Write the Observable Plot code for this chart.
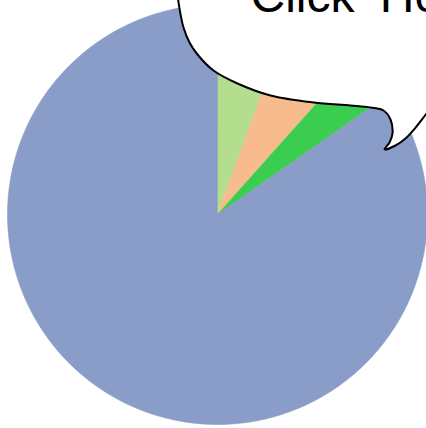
<!DOCTYPE html>
<html>
<head>
<meta charset="utf-8">
<script src="https://cdn.jsdelivr.net/npm/d3@7"></script>
<script src="https://cdn.jsdelivr.net/npm/@observablehq/plot@0.6"></script>
<style>
  html, body { margin: 0; padding: 0; background: #fff; overflow: hidden; }
  #chart svg { display: block; }
  #chart text.bubble-label text, #chart g.bubble-label text { word-spacing: 12px; }
</style>
</head>
<body>
<div id="chart"></div>
<script>
// ---- data ----
const categories = ["Light green", "Peach", "Green", "Blue"];
const values = [5.6, 6.0, 3.7, 84.7];
const colors = ["#b2de8d", "#f8bb8d", "#3bcd50", "#8a9cc8"];
const bubbleText = ["Click Here"];
// speech-bubble outline (annotation, in pixel units of the 426x428 frame)
const bubbleOutlinePx = [
  [172, -30], [177, -5], [179, 8], [183, 27], [189, 42], [197, 54], [213, 70],
  [237, 83], [270, 95], [313, 102], [350, 105], [370, 107], [383, 110],
  [390, 119], [392, 133], [389, 142], [384, 149], [395, 145], [405, 138],
  [416, 126], [426, 113], [440, 95], [470, 60], [470, -30]
];

// ---- layout ----
const W = 426, H = 428;
const cx = 217, cy = 214, R = 210;
const px2x = px => (px - cx) / R;
const py2y = py => (cy - py) / R;

// pie geometry from values
const arcs = d3.pie().sort(null).value(d => d)(values);
const slicePts = [];
arcs.forEach((a, i) => {
  slicePts.push({cat: categories[i], x: 0, y: 0});
  const n = Math.max(4, Math.ceil((a.endAngle - a.startAngle) / (Math.PI / 180)));
  for (let k = 0; k <= n; k++) {
    const t = a.startAngle + (a.endAngle - a.startAngle) * k / n;
    slicePts.push({cat: categories[i], x: Math.sin(t), y: Math.cos(t)});
  }
});
const bubble = bubbleOutlinePx.map(([px, py]) => ({x: px2x(px), y: py2y(py)}));

const chart = Plot.plot({
  width: W,
  height: H,
  margin: 0,
  style: {background: "#fff"},
  x: {domain: [px2x(0), px2x(W)], axis: null},
  y: {domain: [py2y(H), py2y(0)], axis: null},
  color: {domain: categories, range: colors},
  marks: [
    Plot.line(slicePts, {x: "x", y: "y", z: "cat", fill: "cat", stroke: "cat", strokeWidth: 0.6, curve: "linear-closed"}),
    Plot.line(bubble, {x: "x", y: "y", fill: "white", stroke: "black", strokeWidth: 2, curve: "catmull-rom-closed"}),
    Plot.text(bubbleText, {
      x: px2x(250), y: py2y(11), text: d => d,
      textAnchor: "start", lineAnchor: "bottom",
      fontSize: 48, fontFamily: "Liberation Sans, Arial, sans-serif",
      fill: "black", className: "bubble-label"
    })
  ]
});
document.getElementById("chart").appendChild(chart);
</script>
</body>
</html>
